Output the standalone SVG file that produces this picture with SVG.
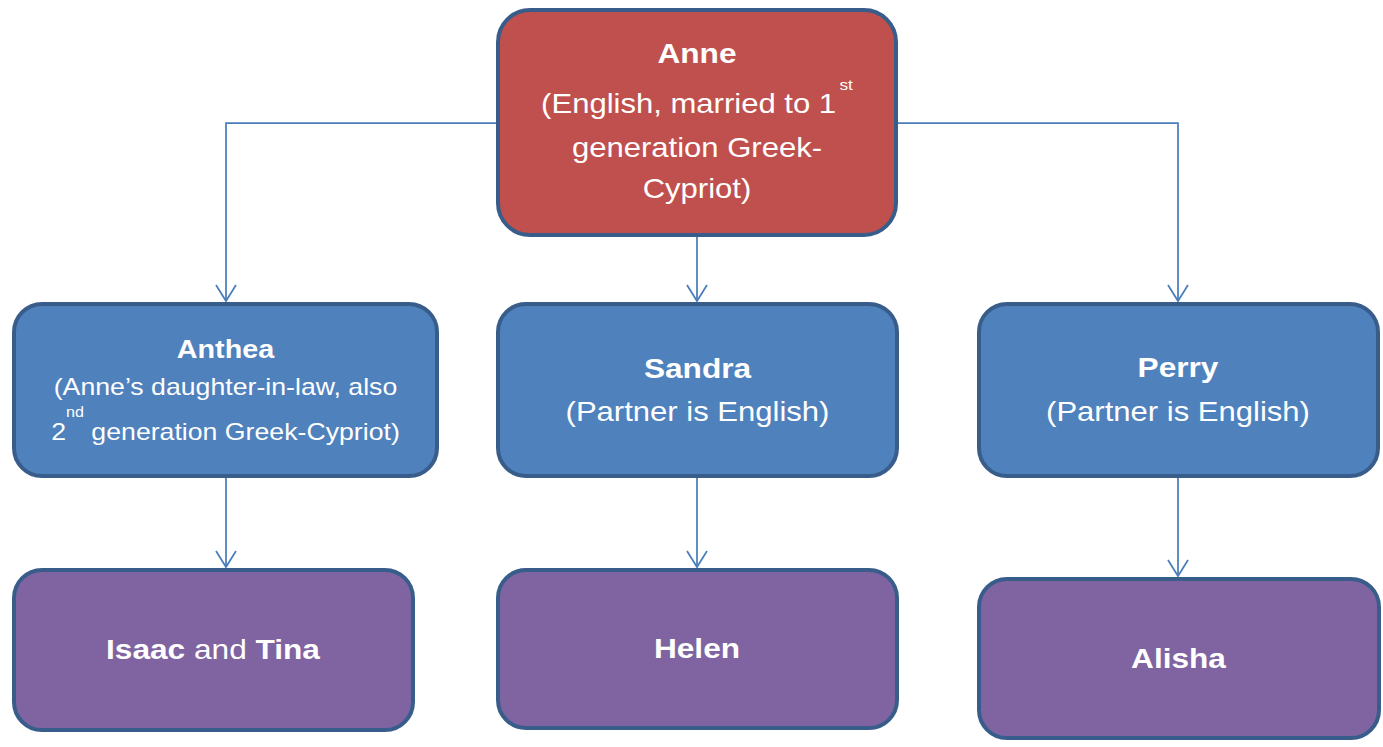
<svg xmlns="http://www.w3.org/2000/svg" width="1383" height="747" viewBox="0 0 1383 747">
  <style>
    .box { stroke: #385d8a; stroke-width: 4; }
    .red { fill: #c0504d; }
    .blue { fill: #4f81bd; }
    .purple { fill: #8064a2; }
    .lbl { font-family: "Liberation Sans", Arial, sans-serif; fill: #ffffff; text-anchor: middle; }
    .b { font-weight: bold; }
    .link { fill: none; stroke: #4a7ebb; stroke-width: 1.75; }
  </style>
  <defs>
    <marker id="vee" markerUnits="userSpaceOnUse" markerWidth="20" markerHeight="24" viewBox="-18 -12 20 24" refX="0" refY="0" orient="auto">
      <path d="M-16,-10 L0,0 L-16,10" fill="none" stroke="#4a7ebb" stroke-width="1.75"/>
    </marker>
  </defs>

  <rect width="1383" height="747" fill="#ffffff"/>

  <!-- connectors -->
  <g id="connectors" class="link">
    <path d="M498,123 H226 V301" marker-end="url(#vee)"/>
    <path d="M697,237 V301" marker-end="url(#vee)"/>
    <path d="M896,123 H1178 V301" marker-end="url(#vee)"/>
    <path d="M226,478 V567" marker-end="url(#vee)"/>
    <path d="M697,478 V567" marker-end="url(#vee)"/>
    <path d="M1178,478 V576" marker-end="url(#vee)"/>
  </g>

  <!-- top generation -->
  <g id="anne">
    <rect class="box red" x="498" y="10" width="398" height="225" rx="32"/>
    <g transform="translate(697 0) scale(1.15 1)">
      <text class="lbl b" x="0" y="63" font-size="27.5">Anne</text>
      <text class="lbl" x="0" y="113" font-size="27">(English, married to 1<tspan font-size="15" dy="-23" dx="3">st</tspan></text>
      <text class="lbl" x="0" y="157" font-size="27">generation Greek-</text>
      <text class="lbl" x="0" y="198" font-size="27">Cypriot)</text>
    </g>
  </g>

  <!-- second generation -->
  <g id="anthea">
    <rect class="box blue" x="14" y="304" width="423" height="172" rx="28"/>
    <g transform="translate(225.5 0) scale(1.15 1)">
      <text class="lbl b" x="0" y="358" font-size="25">Anthea</text>
      <text class="lbl" x="0" y="395" font-size="23.2">(Anne’s daughter-in-law, also</text>
      <text class="lbl" x="0" y="440" font-size="23.2">2<tspan font-size="14" dy="-23">nd</tspan><tspan dy="23"> generation Greek-Cypriot)</tspan></text>
    </g>
  </g>

  <g id="sandra">
    <rect class="box blue" x="498" y="304" width="399" height="172" rx="28"/>
    <g transform="translate(697.5 0) scale(1.15 1)">
      <text class="lbl b" x="0" y="378" font-size="27.5">Sandra</text>
      <text class="lbl" x="0" y="421" font-size="27">(Partner is English)</text>
    </g>
  </g>

  <g id="perry">
    <rect class="box blue" x="979" y="304" width="399" height="172" rx="28"/>
    <g transform="translate(1178 0) scale(1.15 1)">
      <text class="lbl b" x="0" y="377" font-size="27.5">Perry</text>
      <text class="lbl" x="0" y="421" font-size="27">(Partner is English)</text>
    </g>
  </g>

  <!-- third generation -->
  <g id="isaac-tina">
    <rect class="box purple" x="14" y="570" width="399" height="160" rx="28"/>
    <g transform="translate(213 0) scale(1.15 1)">
      <text class="lbl" x="0" y="659" font-size="27.5"><tspan class="b">Isaac</tspan> and <tspan class="b">Tina</tspan></text>
    </g>
  </g>

  <g id="helen">
    <rect class="box purple" x="498" y="570" width="399" height="158" rx="28"/>
    <g transform="translate(697 0) scale(1.15 1)">
      <text class="lbl b" x="0" y="658" font-size="27.5">Helen</text>
    </g>
  </g>

  <g id="alisha">
    <rect class="box purple" x="979" y="579" width="400" height="159" rx="28"/>
    <g transform="translate(1178.5 0) scale(1.15 1)">
      <text class="lbl b" x="0" y="668" font-size="27.5">Alisha</text>
    </g>
  </g>
</svg>
